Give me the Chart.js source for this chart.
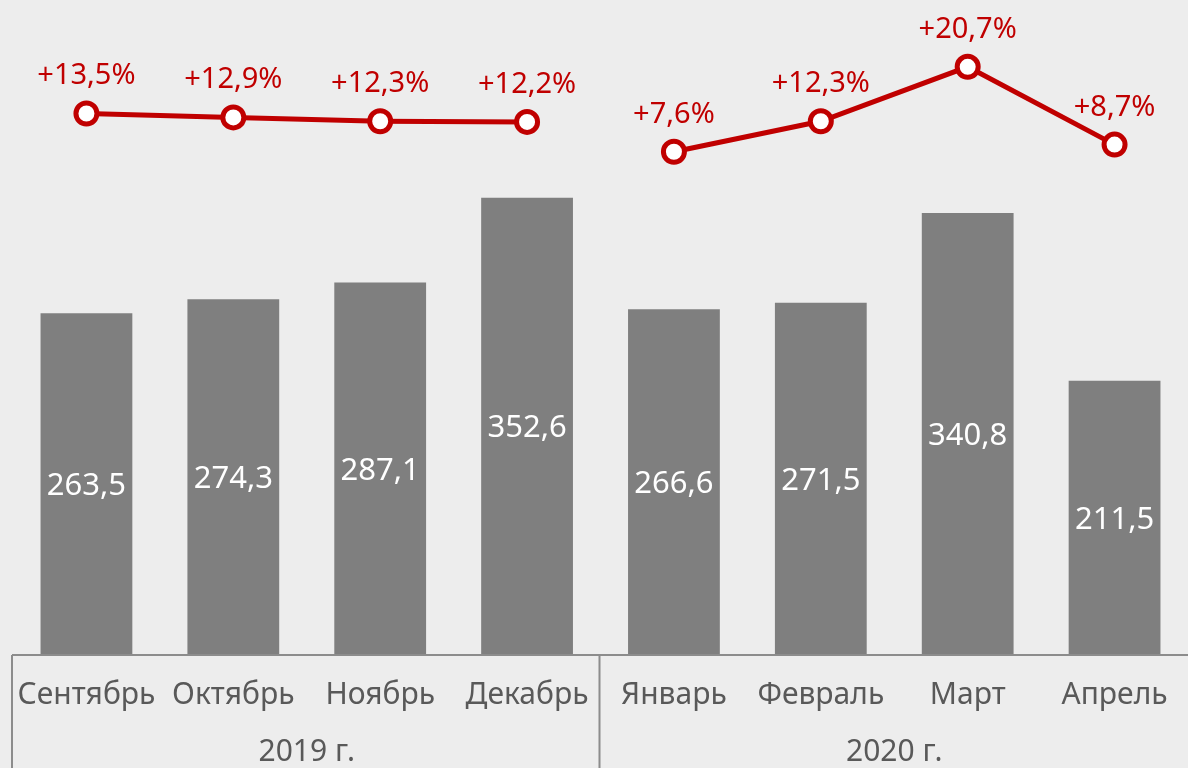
<!DOCTYPE html>
<html>
<head>
<meta charset="utf-8">
<script src="https://cdn.jsdelivr.net/npm/chart.js@4"></script>
<style>
  html, body { margin: 0; padding: 0; background: #ededed; }
  #wrap { width: 1188px; height: 768px; position: relative; }
</style>
</head>
<body>
<div id="wrap"><canvas id="chart" width="1188" height="768"></canvas></div>
<script>
// data
const months = ["Сентябрь", "Октябрь", "Ноябрь", "Декабрь", "Январь", "Февраль", "Март", "Апрель"];
const years = ["2019 г.", "2020 г."];
const yearSpans = [4, 4];
const sales = [263.5, 274.3, 287.1, 352.6, 266.6, 271.5, 340.8, 211.5];
const growth = [13.5, 12.9, 12.3, 12.2, 7.6, 12.3, 20.7, 8.7];

const RED = "#c00000";
const FONT = "'Noto Sans', sans-serif";

const fmt = (v, d) => v.toFixed(d).replace(".", ",");

// bar values inside bars, growth labels above points
const labelsPlugin = {
  id: "valueLabels",
  afterDatasetsDraw(chart) {
    const ctx = chart.ctx;
    ctx.save();
    ctx.textAlign = "center";

    const bars = chart.getDatasetMeta(0).data;
    ctx.fillStyle = "#ffffff";
    ctx.font = "31px " + FONT;
    ctx.textBaseline = "middle";
    bars.forEach((b, i) => {
      ctx.fillText(fmt(sales[i], 1), b.x, (b.y + b.base) / 2 + 2);
    });

    const pts = chart.getDatasetMeta(1).data;
    ctx.fillStyle = RED;
    ctx.font = "29px " + FONT;
    ctx.textBaseline = "alphabetic";
    pts.forEach((p, i) => {
      ctx.fillText("+" + fmt(growth[i], 1) + "%", p.x, p.y - 29);
    });
    ctx.restore();
  }
};

// grouped category axis drawn under the chart area
const groupAxisPlugin = {
  id: "groupAxis",
  afterDraw(chart) {
    const ctx = chart.ctx;
    const area = chart.chartArea;
    const x = chart.scales.x;
    const step = (area.right - area.left) / months.length;
    ctx.save();
    ctx.strokeStyle = "#8c8c8c";
    ctx.lineWidth = 2;
    ctx.beginPath();
    ctx.moveTo(area.left - 1, area.bottom);
    ctx.lineTo(chart.width, area.bottom);
    let start = 0;
    const seps = [0];
    yearSpans.forEach(n => { start += n; seps.push(start); });
    seps.forEach(s => {
      const sx = area.left + s * step - 1;
      if (sx < chart.width - 10) {
        ctx.moveTo(sx, area.bottom);
        ctx.lineTo(sx, chart.height);
      }
    });
    ctx.stroke();

    ctx.fillStyle = "#595959";
    ctx.textAlign = "center";
    ctx.textBaseline = "middle";
    ctx.font = "30px " + FONT;
    months.forEach((m, i) => {
      ctx.fillText(m, x.getPixelForValue(i), area.bottom + 40);
    });
    years.forEach((y, i) => {
      const cx = area.left + (seps[i] + seps[i + 1]) / 2 * step;
      ctx.fillText(y, cx, area.bottom + 97);
    });
    ctx.restore();
  }
};

new Chart(document.getElementById("chart"), {
  data: {
    labels: months,
    datasets: [
      {
        type: "bar",
        data: sales,
        backgroundColor: "#7f7f7f",
        yAxisID: "y",
        categoryPercentage: 0.625,
        barPercentage: 1,
        order: 2
      },
      {
        type: "line",
        data: growth,
        yAxisID: "y2",
        borderColor: RED,
        borderWidth: 5,
        pointRadius: 10.5,
        pointBorderWidth: 5,
        pointBackgroundColor: "#ffffff",
        pointBorderColor: RED,
        segment: {
          // no line between the two years
          borderColor: c => c.p0DataIndex === 3 ? "transparent" : RED
        },
        order: 1
      }
    ]
  },
  options: {
    responsive: false,
    animation: false,
    layout: { autoPadding: false, padding: { left: 13, right: -4, top: 0, bottom: 113 } },
    plugins: { legend: { display: false }, tooltip: { enabled: false } },
    scales: {
      x: { display: false },
      y: { display: false, min: 0, max: 505 },
      y2: { display: false, min: -70, max: 31 }
    }
  },
  plugins: [labelsPlugin, groupAxisPlugin]
});
</script>
</body>
</html>
